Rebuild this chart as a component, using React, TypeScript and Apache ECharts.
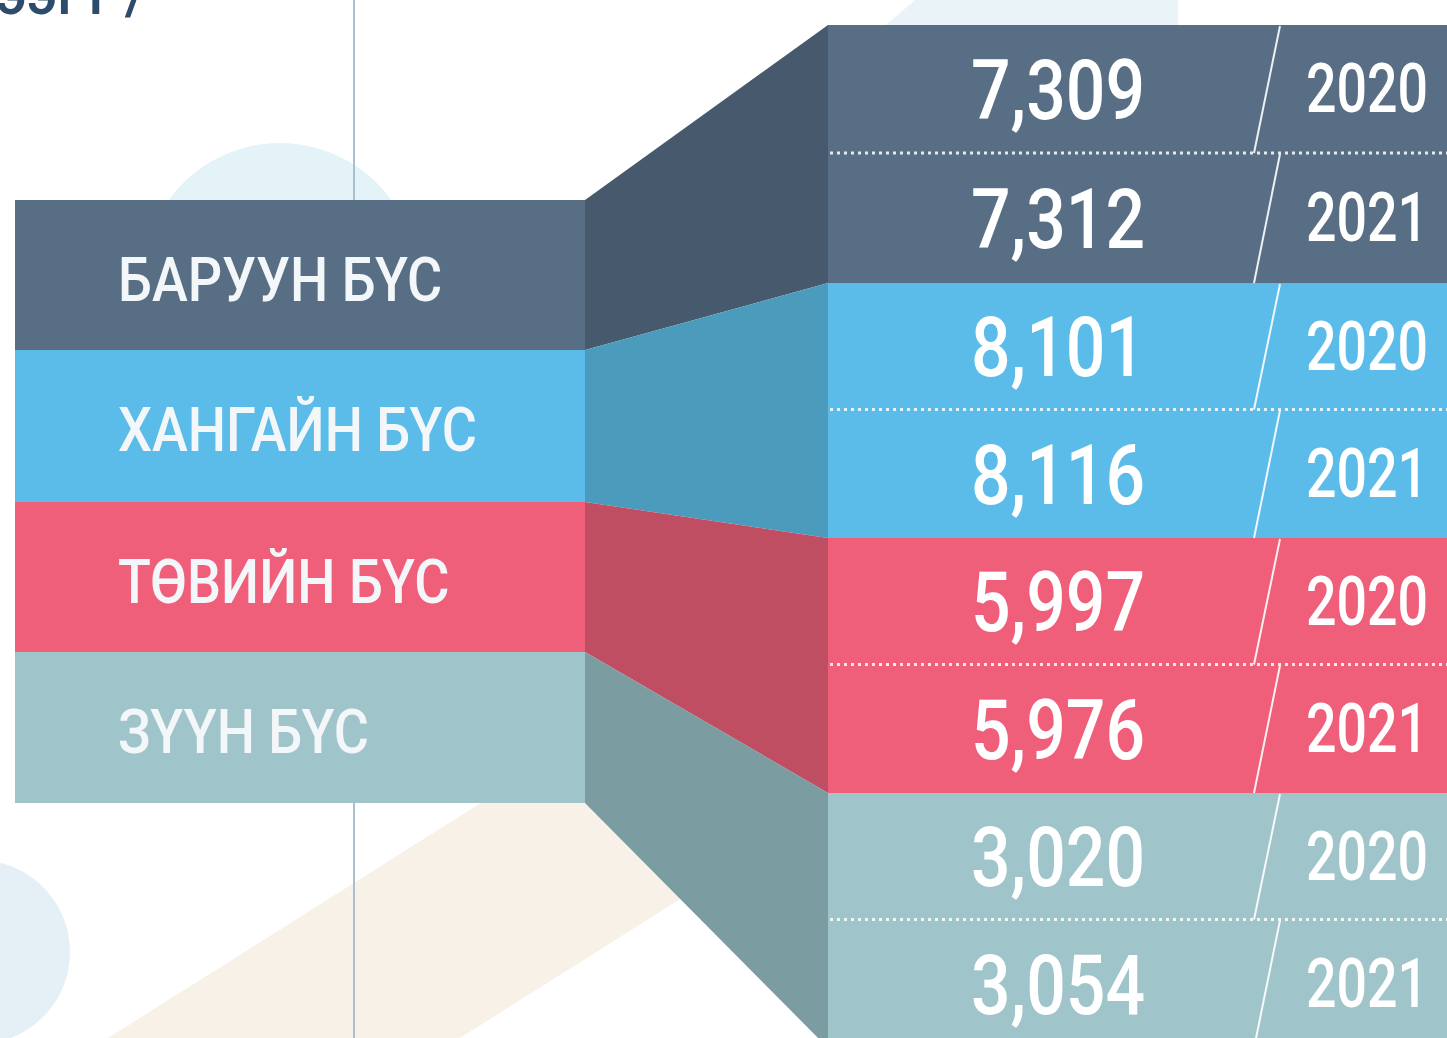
import React, { useEffect, useRef } from "react";
import * as echarts from "echarts";

const regions = ["БАРУУН БҮС", "ХАНГАЙН БҮС", "ТӨВИЙН БҮС", "ЗҮҮН БҮС"];
const values2020 = [7309, 8101, 5997, 3020];
const values2021 = [7312, 8116, 5976, 3054];
const years = ["2020", "2021"];
const faceColors = ["#586e85", "#5bbce9", "#f05f7a", "#9fc4ca"];
const sideColors = ["#46596d", "#4b9bbd", "#c04e63", "#7b9ca1"];
const headerFragment = "ээгт /";

const W = 1447;
const H = 1038;

export default function App() {
  const ref = useRef<HTMLDivElement>(null);
  useEffect(() => {
    if (!ref.current) return;
    const chart = echarts.init(ref.current, null, { renderer: "svg", width: W, height: H });
    const fmt = (v: number) => v.toLocaleString("en-US");

    const leftX0 = 15;
    const leftX1 = 585;
    const rightX0 = 828;
    const rightX1 = W + 5;
    const leftTops = [200, 350, 502, 652, 803];
    const rightTops = [25, 283, 538, 793, 1048];

    const els: any[] = [];
    els.push({ type: "circle", shape: { cx: 280, cy: 280, r: 137 }, style: { fill: "#e4f3f8" }, silent: true });
    els.push({ type: "circle", shape: { cx: -22, cy: 952, r: 92 }, style: { fill: "#e5f0f6" }, silent: true });
    els.push({
      type: "polygon",
      shape: { points: [[108, 1038], [660, 690], [1012, 690], [460, 1038]] },
      style: { fill: "#f8f1e7" },
      silent: true,
    });
    els.push({
      type: "polygon",
      shape: { points: [[880, 30], [915, 0], [1178, 0], [1178, 30]] },
      style: { fill: "#eaf4f8" },
      silent: true,
    });
    els.push({ type: "line", shape: { x1: 354, y1: 0, x2: 354, y2: H }, style: { stroke: "#a9bfd2", lineWidth: 2 }, silent: true });
    els.push({
      type: "text",
      x: -4,
      y: -6,
      style: { text: headerFragment, fontFamily: "Roboto", fontWeight: 500, fontSize: 58, fill: "#2d4b6b", textAlign: "left", textVerticalAlign: "middle" },
      silent: true,
    });

    regions.forEach((name, i) => {
      els.push({
        type: "rect",
        shape: { x: leftX0, y: leftTops[i], width: leftX1 - leftX0, height: leftTops[i + 1] - leftTops[i] },
        style: { fill: faceColors[i] },
      });
    });
    regions.forEach((name, i) => {
      els.push({
        type: "polygon",
        shape: {
          points: [
            [leftX1, leftTops[i]],
            [rightX0, rightTops[i]],
            [rightX0, rightTops[i + 1]],
            [leftX1, leftTops[i + 1]],
          ],
        },
        style: { fill: sideColors[i] },
      });
    });
    regions.forEach((name, i) => {
      els.push({
        type: "rect",
        shape: { x: rightX0, y: rightTops[i], width: rightX1 - rightX0, height: rightTops[i + 1] - rightTops[i] },
        style: { fill: faceColors[i] },
      });
    });

    regions.forEach((name, i) => {
      els.push({
        type: "text",
        x: 118,
        y: leftTops[i] + 80,
        scaleX: 0.87,
        style: {
          text: name,
          fontFamily: "Roboto",
          fontWeight: 500,
          fontSize: 62,
          fill: "#f4f7f9",
          textAlign: "left",
          textVerticalAlign: "middle",
        },
      });
      const top = rightTops[i];
      const bot = rightTops[i + 1];
      const mid = (top + bot) / 2 - 1;
      const rows = [
        { t: top, b: mid, v: values2020[i], y: years[0] },
        { t: mid, b: bot, v: values2021[i], y: years[1] },
      ];
      els.push({
        type: "line",
        shape: { x1: rightX0 + 2, y1: mid, x2: W, y2: mid },
        style: { stroke: "rgba(255,255,255,0.85)", lineWidth: 3, lineDash: [3, 4] },
      });
      rows.forEach((r) => {
        els.push({
          type: "line",
          shape: { x1: 1280, y1: r.t + 1, x2: 1254, y2: r.b },
          style: { stroke: "rgba(255,255,255,0.9)", lineWidth: 2 },
        });
        const cy = (r.t + r.b) / 2;
        els.push({
          type: "text",
          x: 1058,
          y: cy + 1,
          scaleX: 0.83,
          style: {
            text: fmt(r.v),
            fontFamily: "Roboto",
            fontWeight: 500,
            fontSize: 84,
            fill: "#ffffff",
            textAlign: "center",
            textVerticalAlign: "middle",
          },
        });
        els.push({
          type: "text",
          x: 1306,
          y: cy,
          scaleX: 0.79,
          style: {
            text: r.y,
            fontFamily: "Roboto",
            fontWeight: 500,
            fontSize: 68,
            fill: "#ffffff",
            textAlign: "left",
            textVerticalAlign: "middle",
          },
        });
      });
    });

    chart.setOption({
      animation: false,
      backgroundColor: "#ffffff",
      graphic: { elements: els },
    });
    return () => chart.dispose();
  }, []);
  return <div ref={ref} style={{ position: "fixed", left: 0, top: 0, width: W, height: H }} />;
}
